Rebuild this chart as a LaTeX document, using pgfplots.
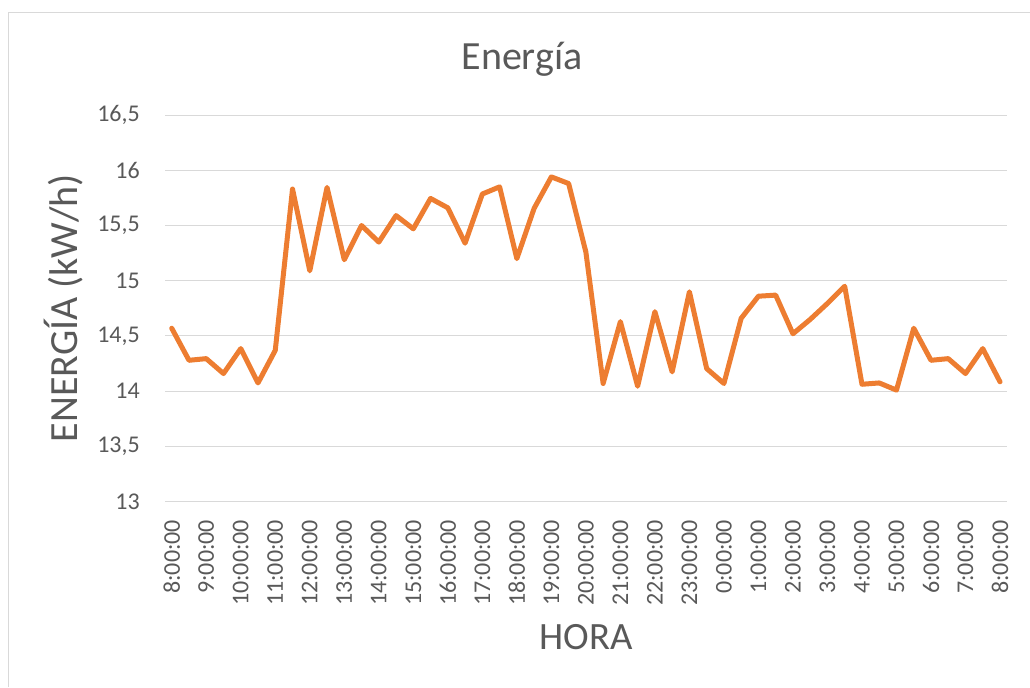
\documentclass[border=0pt]{standalone}
\usepackage{fontspec}
\setmainfont{Carlito}
\usepackage{pgfplots}
\pgfplotsset{compat=1.18}
\definecolor{lineor}{HTML}{ED7D31}
\definecolor{gridc}{HTML}{D9D9D9}
\definecolor{txt}{HTML}{595959}
\begin{document}
\begin{tikzpicture}
\useasboundingbox (0,0) rectangle (772.5pt,515.25pt);
\draw[gridc, line width=0.75pt] (6.4pt,0pt) -- (6.4pt,505.9pt) -- (772.5pt,505.9pt);
\begin{axis}[
  at={(123.75pt,138.98pt)}, anchor=south west,
  scale only axis, width=631.3pt, height=290pt,
  xmin=-0.39, xmax=48.39, ymin=13, ymax=16.5,
  axis line style={draw=none},
  ymajorgrids, major grid style={gridc, line width=0.75pt},
  ytick={13,13.5,14,14.5,15,15.5,16,16.5},
  yticklabels={13,{13,5},14,{14,5},15,{15,5},16,{16,5}},
  xtick={0,2,...,48},
  xticklabels={8:00:00,9:00:00,10:00:00,11:00:00,12:00:00,13:00:00,14:00:00,15:00:00,16:00:00,17:00:00,18:00:00,19:00:00,20:00:00,21:00:00,22:00:00,23:00:00,0:00:00,1:00:00,2:00:00,3:00:00,4:00:00,5:00:00,6:00:00,7:00:00,8:00:00},
  major tick length=0pt,
  tick label style={font=\fontsize{18}{22}\selectfont, text=txt},
  yticklabel style={anchor=east, inner sep=0pt, xshift=-18.75pt},
  xticklabel style={rotate=90, anchor=east, inner sep=0pt, xshift=-13.5pt},
  clip=false,
]
\addplot[lineor, line width=3.75pt, line join=round, line cap=round] coordinates {
(0,14.57) (1,14.28) (2,14.295) (3,14.16) (4,14.386) (5,14.075) (6,14.37)
(7,15.83) (8,15.09) (9,15.845) (10,15.19) (11,15.5) (12,15.35) (13,15.59)
(14,15.47) (15,15.745) (16,15.66) (17,15.34) (18,15.785) (19,15.85) (20,15.2)
(21,15.655) (22,15.94) (23,15.88) (24,15.26) (25,14.07) (26,14.63) (27,14.045)
(28,14.72) (29,14.175) (30,14.90) (31,14.205) (32,14.07) (33,14.66) (34,14.86)
(35,14.87) (36,14.52) (37,14.65) (38,14.795) (39,14.95) (40,14.063) (41,14.075)
(42,14.01) (43,14.57) (44,14.28) (45,14.295) (46,14.16) (47,14.386) (48,14.085)
};
\end{axis}
\node[anchor=base, text=txt, font=\fontsize{30}{36}\selectfont] at (391.5pt,462.75pt) {Energía};
\node[anchor=base, rotate=90, text=txt, font=\fontsize{30}{36}\selectfont] at (57.75pt,284.25pt) {ENERGÍA (kW/h)};
\node[anchor=base, text=txt, font=\fontsize{29}{35}\selectfont] at (439.5pt,28.5pt) {HORA};
\end{tikzpicture}
\end{document}
